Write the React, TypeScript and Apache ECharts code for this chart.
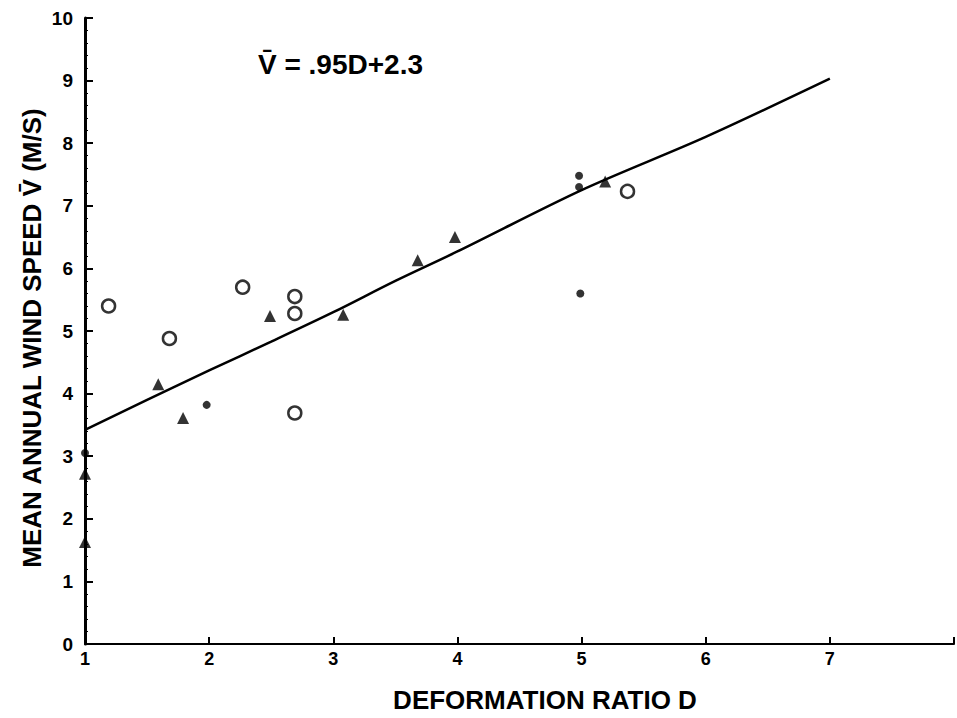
import React, { useEffect, useRef } from "react";
import * as echarts from "echarts";

const openCircles: number[][] = [
  [1.19, 5.4],
  [1.68, 4.88],
  [2.27, 5.7],
  [2.69, 5.55],
  [2.69, 5.28],
  [2.69, 3.69],
  [5.37, 7.23],
];

const triangles: number[][] = [
  [1.0, 1.63],
  [1.0, 2.72],
  [1.59, 4.15],
  [1.79, 3.61],
  [2.49, 5.24],
  [3.08, 5.26],
  [3.68, 6.13],
  [3.98, 6.5],
  [5.19, 7.39],
];

const dots: number[][] = [
  [1.0, 3.05],
  [1.98, 3.82],
  [4.98, 7.48],
  [4.98, 7.3],
  [4.99, 5.6],
];

const fitX = [1, 1.5, 2, 2.5, 3, 3.5, 4, 5, 6, 7];
const fitY = [3.42, 3.9, 4.37, 4.83, 5.3, 5.8, 6.27, 7.25, 8.1, 9.03];

const xTickLabels = ["1", "2", "3", "4", "5", "6", "7"];

const equationText = "V\u0304 = .95D+2.3";
const xTitle = "DEFORMATION RATIO D";
const yTitle = "MEAN ANNUAL WIND SPEED V\u0304 (M/S)";

export default function App() {
  const ref = useRef<HTMLDivElement>(null);
  useEffect(() => {
    if (!ref.current) return;
    const chart = echarts.init(ref.current, null, { renderer: "svg" });
    const ink = "#000";
    chart.setOption({
      animation: false,
      backgroundColor: "#fff",
      grid: { left: 85, right: 3, top: 18, bottom: 74, containLabel: false },
      xAxis: {
        type: "value",
        min: 1,
        max: 8,
        interval: 1,
        axisLine: { lineStyle: { color: ink, width: 2 } },
        axisTick: { inside: true, length: 7, lineStyle: { color: ink, width: 2 } },
        splitLine: { show: false },
        axisLabel: {
          color: ink,
          fontFamily: "Liberation Sans",
          fontWeight: "bold",
          fontSize: 18,
          margin: 6,
          formatter: (v: number) => {
            const s = String(v);
            return xTickLabels.includes(s) ? s : "";
          },
        },
      },
      yAxis: {
        type: "value",
        min: 0,
        max: 10,
        interval: 1,
        axisLine: { lineStyle: { color: ink, width: 3 } },
        axisTick: { inside: true, length: 8, lineStyle: { color: ink, width: 2 } },
        minorTick: { show: true, splitNumber: 5, length: 3, lineStyle: { color: ink, width: 1 } },
        splitLine: { show: false },
        axisLabel: {
          color: ink,
          fontFamily: "Liberation Sans",
          fontWeight: "bold",
          fontSize: 19,
          margin: 12,
        },
      },
      graphic: [
        {
          type: "text",
          left: 258,
          top: 50,
          style: {
            text: equationText,
            fill: ink,
            font: "bold 28px 'Liberation Sans'",
          },
        },
        {
          type: "text",
          x: 545,
          y: 700,
          style: {
            text: xTitle,
            fill: ink,
            font: "bold 26px 'Liberation Sans'",
            align: "center",
            verticalAlign: "middle",
          },
        },
        {
          type: "text",
          x: 32,
          y: 338,
          rotation: Math.PI / 2,
          style: {
            text: yTitle,
            fill: ink,
            font: "bold 26px 'Liberation Sans Narrow', 'Liberation Sans'",
            align: "center",
            verticalAlign: "middle",
          },
        },
      ],
      series: [
        {
          name: "fit",
          type: "line",
          data: fitX.map((x, i) => [x, fitY[i]]),
          smooth: 0.3,
          showSymbol: false,
          lineStyle: { color: ink, width: 2.5 },
          z: 2,
        },
        {
          name: "open",
          type: "scatter",
          data: openCircles,
          symbol: "circle",
          symbolSize: 13,
          itemStyle: { color: "#fff", borderColor: ink, borderWidth: 2.5 },
          z: 3,
        },
        {
          name: "triangle",
          type: "scatter",
          data: triangles,
          symbol: "triangle",
          symbolSize: 12,
          itemStyle: { color: ink },
          z: 3,
        },
        {
          name: "dot",
          type: "scatter",
          data: dots,
          symbol: "circle",
          symbolSize: 8,
          itemStyle: { color: ink },
          z: 3,
        },
      ],
    });
    return () => chart.dispose();
  }, []);
  return <div ref={ref} style={{ width: 957, height: 718, position: "absolute", left: 0, top: 0 }} />;
}
